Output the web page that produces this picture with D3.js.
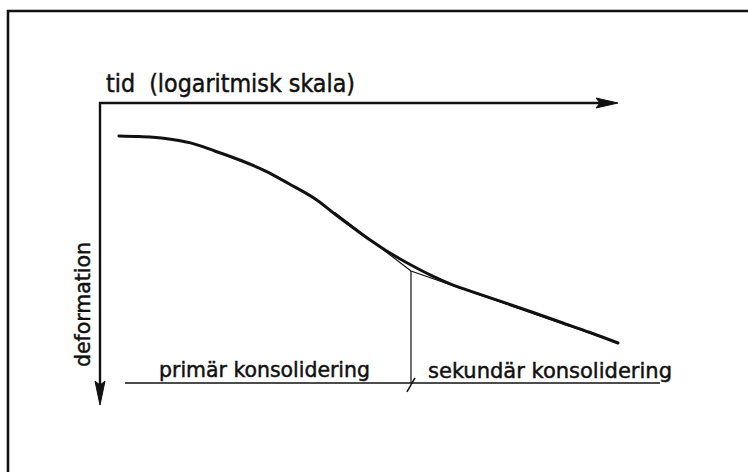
<!DOCTYPE html>
<html>
<head>
<meta charset="utf-8">
<script src="https://cdn.jsdelivr.net/npm/d3@7"></script>
<style>
  html, body { margin: 0; padding: 0; background: #fff; }
  svg { display: block; }
  text {
    font-family: "DejaVu Sans Condensed", "DejaVu Sans", sans-serif;
    fill: #111; stroke: #111; stroke-width: 0.45px;
  }
</style>
</head>
<body>
<svg id="chart" width="748" height="472"></svg>
<script>
// Settlement curve: deformation against time on a logarithmic axis
const time = [1.4, 2.0, 3.2, 5.0, 7.7, 12, 19, 29, 46, 65, 93, 122, 159, 208, 252, 354, 505, 860, 1750, 3570, 6080, 10000];
const deformation = [1.10, 1.12, 1.18, 1.33, 1.60, 1.90, 2.27, 2.70, 3.20, 3.70, 4.20, 4.57, 4.90, 5.20, 5.40, 5.73, 6.03, 6.38, 6.83, 7.30, 7.65, 8.00];

// Tangent at the inflection point and the secondary (creep) line; they meet at the end of primary consolidation
const primaryTangentTime = [65, 252];
const primaryTangentDef = [3.65, 5.60];
const secondaryLineTime = [252, 10000];
const secondaryLineDef = [5.60, 8.00];

// Base line carrying the two phase labels
const baseLineTime = [1.56, 21100];
const baseLineDef = 9.33;

const axisTitleX = "tid  (logaritmisk skala)";
const axisTitleY = "deformation";
const phaseLabels = ["primär konsolidering", "sekundär konsolidering"];

const svg = d3.select("#chart");
const ink = "#111";

const x = d3.scaleLog().domain([1, 10000]).range([100, 618]);
const y = d3.scaleLinear().domain([0, 10]).range([103, 403]);

// outer frame (top and left edges)
svg.append("path")
  .attr("d", "M8,472 L8,11 L748,11")
  .attr("fill", "none").attr("stroke", ink).attr("stroke-width", 2.6);

// axes with arrowheads
const x0 = x(1), y0 = y(0);
const xEnd = x(10000), yEnd = y(10.07);
svg.append("line")
  .attr("x1", x0 - 1).attr("y1", y0).attr("x2", xEnd - 14).attr("y2", y0)
  .attr("stroke", ink).attr("stroke-width", 2.4);
svg.append("line")
  .attr("x1", x0).attr("y1", y0 - 1).attr("x2", x0).attr("y2", yEnd - 14)
  .attr("stroke", ink).attr("stroke-width", 2.4);
svg.append("path")
  .attr("d", `M${xEnd},${y0} L${xEnd - 22},${y0 - 5} L${xEnd - 18},${y0} L${xEnd - 22},${y0 + 5} Z`)
  .attr("fill", ink).attr("stroke", ink).attr("stroke-width", 1).attr("stroke-linejoin", "round");
svg.append("path")
  .attr("d", `M${x0},${yEnd} L${x0 - 5},${yEnd - 24} L${x0},${yEnd - 20} L${x0 + 5},${yEnd - 24} Z`)
  .attr("fill", ink).attr("stroke", ink).attr("stroke-width", 1).attr("stroke-linejoin", "round");

// axis titles
svg.append("text")
  .attr("x", 106).attr("y", 92)
  .attr("font-size", 24)
  .attr("textLength", 249).attr("lengthAdjust", "spacingAndGlyphs")
  .style("white-space", "pre")
  .text(axisTitleX);

svg.append("text")
  .attr("transform", "translate(90,367) rotate(-90)")
  .attr("font-size", 22)
  .attr("textLength", 125).attr("lengthAdjust", "spacingAndGlyphs")
  .text(axisTitleY);

// construction lines
const thin = d3.line().x(d => x(d[0])).y(d => y(d[1]));
svg.append("path")
  .datum(d3.zip(primaryTangentTime, primaryTangentDef).concat(d3.zip(secondaryLineTime, secondaryLineDef).slice(1)))
  .attr("d", thin)
  .attr("fill", "none").attr("stroke", ink).attr("stroke-width", 1.2).attr("stroke-linejoin", "miter");

// vertical marker at the end of primary consolidation
const tEnd = secondaryLineTime[0], dEnd = secondaryLineDef[0];
svg.append("line")
  .attr("x1", x(tEnd)).attr("y1", y(dEnd)).attr("x2", x(tEnd)).attr("y2", y(baseLineDef))
  .attr("stroke", ink).attr("stroke-width", 1.2);

// base line and the crossing tick
svg.append("line")
  .attr("x1", x(baseLineTime[0])).attr("y1", y(baseLineDef))
  .attr("x2", x(baseLineTime[1])).attr("y2", y(baseLineDef))
  .attr("stroke", ink).attr("stroke-width", 1.5);
svg.append("line")
  .attr("x1", x(tEnd) - 4).attr("y1", y(baseLineDef) + 9)
  .attr("x2", x(tEnd) + 4).attr("y2", y(baseLineDef) - 5)
  .attr("stroke", ink).attr("stroke-width", 1.5);

// deformation curve
const curve = d3.line()
  .x(d => x(d[0])).y(d => y(d[1]))
  .curve(d3.curveCatmullRom.alpha(0.5));
svg.append("path")
  .datum(d3.zip(time, deformation))
  .attr("d", curve)
  .attr("fill", "none").attr("stroke", ink)
  .attr("stroke-width", 3).attr("stroke-linecap", "round");

// phase labels
svg.append("text")
  .attr("x", 159).attr("y", 377)
  .attr("font-size", 22)
  .attr("textLength", 211).attr("lengthAdjust", "spacingAndGlyphs")
  .text(phaseLabels[0]);
svg.append("text")
  .attr("x", 428).attr("y", 378)
  .attr("font-size", 22)
  .attr("textLength", 244).attr("lengthAdjust", "spacingAndGlyphs")
  .text(phaseLabels[1]);
</script>
</body>
</html>
